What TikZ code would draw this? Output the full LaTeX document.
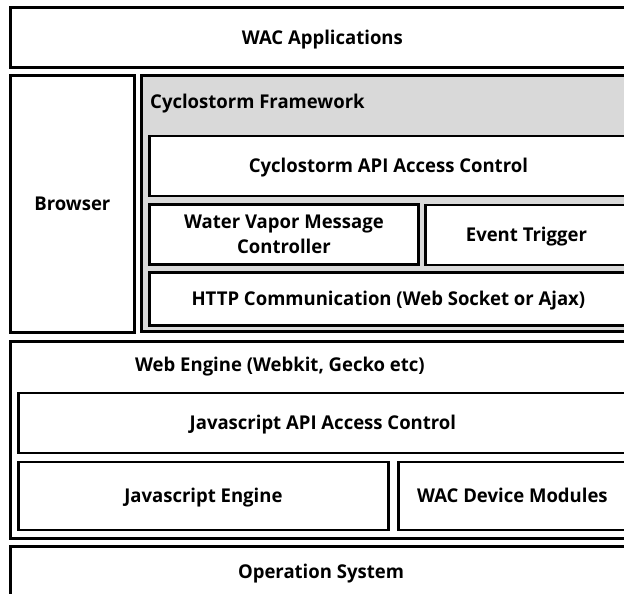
\documentclass[tikz,border=0pt]{standalone}
\usepackage{fontspec}
\setmainfont{Open Sans}[FakeStretch=0.975]
\begin{document}
\begin{tikzpicture}[x=1pt,y=-1pt,
  label font/.style={font=\fontsize{19}{25}\selectfont\bfseries},
  capcentred/.style={text height=13.6pt, text depth=0pt},
  layer/.style={draw=black, line width=2.8pt, fill=white, anchor=north west,
    inner sep=0pt, align=center, label font},
  group/.style={layer, fill=black!15},
  caption/.style={anchor=west, inner sep=0pt, label font, capcentred}]
\useasboundingbox (0,0) rectangle (624,594);
\clip (0,0) rectangle (624,594);

% application layer
\node[layer, capcentred, minimum width=624pt, minimum height=60pt] (apps) at (9,6) {WAC Applications};

% browser column
\node[layer, capcentred, minimum width=124pt, minimum height=257pt] (browser) at (9,74) {Browser};

% Cyclostorm framework group
\node[group, minimum width=493pt, minimum height=256pt] (cyclo) at (140,74) {};
\node[caption] (cyclotitle) at (150,102) {Cyclostorm Framework};
\node[layer, capcentred, minimum width=478pt, minimum height=60pt] (cyapi) at (148,134.5) {Cyclostorm API Access Control};
\node[layer, minimum width=269pt, minimum height=60pt] (vapor) at (148,203) {Water Vapor Message\\Controller};
\node[layer, capcentred, minimum width=202pt, minimum height=60pt] (event) at (424,203.5) {Event Trigger};
\node[layer, capcentred, minimum width=478pt, minimum height=53pt] (http) at (148,271) {HTTP Communication (Web Socket or Ajax)};

% web engine group
\node[layer, minimum width=624pt, minimum height=197pt] (web) at (9,340) {};
\node[caption] (webtitle) at (135,365) {Web Engine (Webkit, Gecko etc)};
\node[layer, capcentred, minimum width=609pt, minimum height=60pt] (jsapi) at (17,391.5) {Javascript API Access Control};
\node[layer, capcentred, minimum width=370pt, minimum height=68pt] (jsengine) at (17,460.5) {Javascript Engine};
\node[layer, capcentred, minimum width=228pt, minimum height=68pt] (device) at (397,460.5) {WAC Device Modules};

% operating system
\node[layer, minimum width=624pt, minimum height=60pt] (os) at (9,545) {};
\node[inner sep=0pt, label font, capcentred] (ostext) at (321,571.5) {Operation System};
\end{tikzpicture}
\end{document}
